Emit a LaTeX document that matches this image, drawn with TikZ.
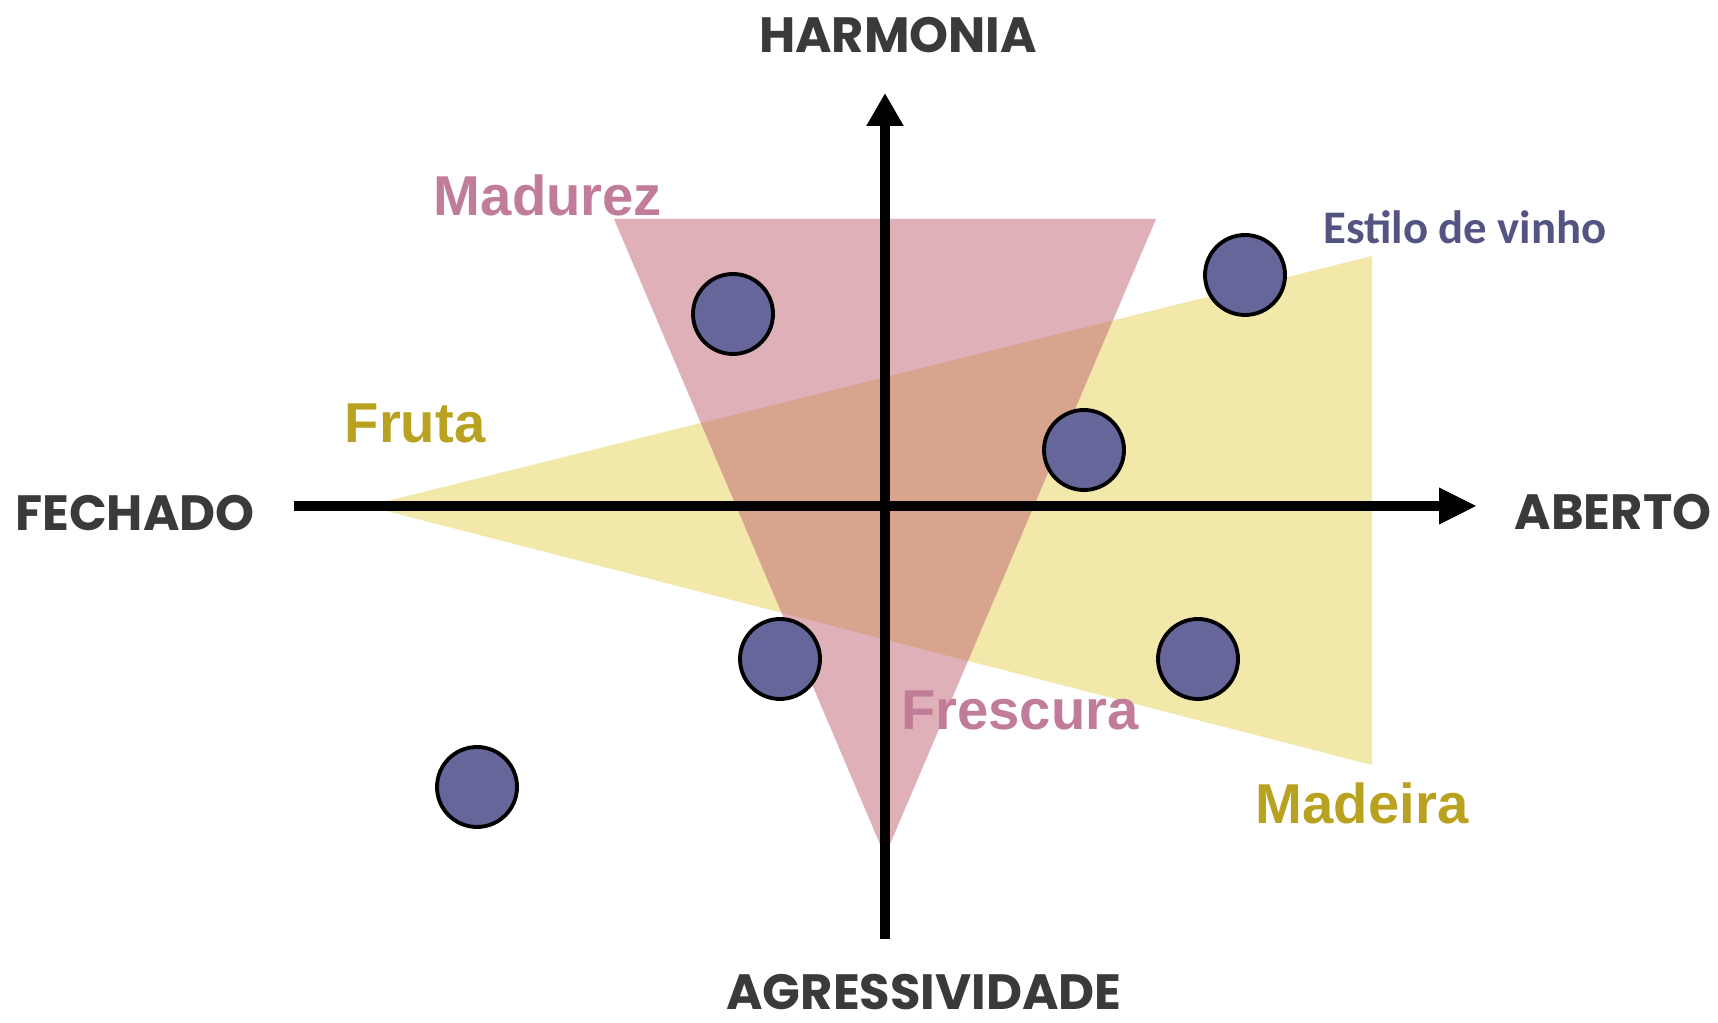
\documentclass[tikz,border=0pt]{standalone}
\usepackage{fontspec}
\setmainfont{Poppins}
\newfontfamily\tastefont{Liberation Sans}
\newfontfamily\stylefont{Carlito}
\usetikzlibrary{arrows.meta}

\definecolor{axisgrey}{HTML}{3A3A3A}
\definecolor{rosetext}{HTML}{C07C98}
\definecolor{rosefill}{RGB}{193,97,113}
\definecolor{olivetext}{HTML}{B9A220}
\definecolor{strawfill}{HTML}{F2E8AA}
\definecolor{winefill}{HTML}{66669A}
\definecolor{winetext}{HTML}{545482}

\tikzset{
    axislabel/.style={font=\bfseries\fontsize{14.1}{16}\selectfont, text=axisgrey, inner sep=0pt},
    tastelabel/.style={font=\tastefont\bfseries\fontsize{16}{18}\selectfont, inner sep=0pt},
    wine/.style={circle, draw=black, line width=1.1pt, fill=winefill, minimum size=0.8cm, inner sep=0pt},
    axis/.style={line width=3.1pt}
}

\begin{document}
\begin{tikzpicture}
            \useasboundingbox (0, 0) rectangle (17.18, 10.22);

            % Areas
            \fill[strawfill] (3.67, 5.16) -- (13.72, 7.66) -- (13.72, 2.57) -- cycle;
            \fill[rosefill, opacity=0.5] (6.14, 8.03) -- (11.56, 8.03) -- (8.85, 1.66) -- cycle;

            % Axis ends
            \coordinate (Bottom) at (8.85, 0.83);
            \coordinate (Top) at (8.85, 9.29);
            \coordinate (Left) at (2.94, 5.16);
            \coordinate (Right) at (14.77, 5.16);

            % Arrows
            \draw[axis, -{Triangle[length=0.33cm, width=0.35cm]}] (Bottom) -- (Top);
            \draw[axis, -{Triangle[length=0.38cm, width=0.34cm]}] (Left) -- (Right);

            % Nodes
            \node[axislabel] (Harmonia) at (8.98, 9.87) {HARMONIA};
            \node[axislabel] (Fechado) at (1.35, 5.09) {FECHADO};
            \node[axislabel] (Aberto) at (16.13, 5.10) {ABERTO};
            \node[axislabel] (Agressividade) at (9.24, 0.30) {AGRESSIVIDADE};

            \node[tastelabel, text=rosetext] (Madurez) at (5.48, 8.27) {Madurez};
            \node[tastelabel, text=olivetext] (Fruta) at (4.15, 5.99) {Fruta};
            \node[tastelabel, text=rosetext] (Frescura) at (10.20, 3.12) {Frescura};
            \node[tastelabel, text=olivetext] (Madeira) at (13.62, 2.19) {Madeira};
            \node[font=\stylefont\bfseries\fontsize{13.3}{15}\selectfont, text=winetext, inner sep=0pt] (Estilo) at (14.65, 7.95) {Estilo de vinho};

            % Wines
            \node[wine] (WineA) at (7.33, 7.08) {};
            \node[wine] (WineB) at (12.45, 7.47) {};
            \node[wine] (WineC) at (10.84, 5.72) {};
            \node[wine] (WineD) at (7.80, 3.63) {};
            \node[wine] (WineE) at (11.98, 3.63) {};
            \node[wine] (WineF) at (4.77, 2.35) {};
        \end{tikzpicture}
\end{document}
